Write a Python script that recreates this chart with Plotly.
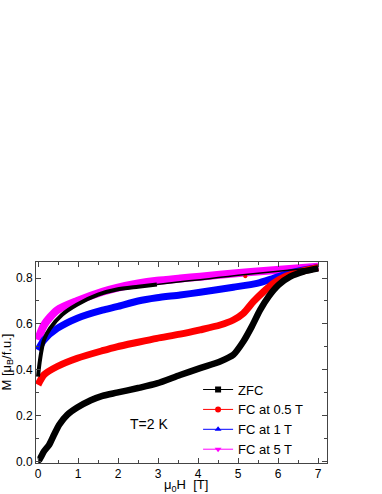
import plotly.graph_objects as go

# field values (T) and magnetisation (muB/f.u.)
zfc_up_h = [0.0, 0.03, 0.15, 0.28, 0.4, 0.53, 0.73, 0.98, 1.32, 1.61, 1.97, 2.5, 2.97, 3.55, 4.05, 4.55, 4.88,
            5.13, 5.34, 5.55, 5.76, 6.01, 6.3, 6.63, 7.0]
zfc_up_m = [0.005, 0.007, 0.044, 0.073, 0.116, 0.16, 0.203, 0.235, 0.267, 0.286, 0.30, 0.32, 0.34, 0.377, 0.407,
            0.436, 0.465, 0.523, 0.588, 0.661, 0.719, 0.77, 0.806, 0.828, 0.842]
zfc_down_h = [7.0, 6.5, 6.0, 5.5, 5.0, 4.5, 4.05, 3.5, 2.97, 2.5, 1.97, 1.5, 0.98, 0.6, 0.3, 0.15, 0.09, 0.04, 0.0]
zfc_down_m = [0.845, 0.838, 0.83, 0.821, 0.812, 0.802, 0.793, 0.783, 0.772, 0.762, 0.75, 0.728, 0.685, 0.64,
              0.58, 0.53, 0.486, 0.43, 0.37]

fc05_h = [0.0, 0.15, 0.48, 0.98, 1.61, 1.97, 2.5, 2.97, 3.55, 4.05, 4.55, 4.88, 5.13, 5.38, 5.63, 5.88, 6.13,
          6.55, 7.0]
fc05_m = [0.334, 0.378, 0.414, 0.45, 0.483, 0.5, 0.52, 0.537, 0.555, 0.574, 0.595, 0.617, 0.646, 0.697, 0.74,
          0.777, 0.803, 0.828, 0.846]
fc05_ret_h = [6.68, 5.18]
fc05_ret_m = [0.826, 0.808]

fc1_h = [0.0, 0.15, 0.48, 0.98, 1.61, 1.97, 2.5, 2.97, 3.55, 4.05, 4.88, 5.47, 5.88, 6.3, 7.0]
fc1_m = [0.486, 0.53, 0.58, 0.625, 0.66, 0.675, 0.7, 0.714, 0.726, 0.738, 0.76, 0.777, 0.799, 0.823, 0.846]

fc5_h = [0.0, 0.15, 0.48, 0.98, 1.61, 1.97, 2.5, 2.97, 3.55, 4.05, 4.88, 5.72, 7.0]
fc5_m = [0.53, 0.595, 0.66, 0.70, 0.74, 0.757, 0.776, 0.788, 0.798, 0.806, 0.82, 0.832, 0.849]

labels = ["ZFC", "FC at 0.5 T", "FC at 1 T", "FC at 5 T"]
colors = ["black", "red", "blue", "magenta"]
symbols = ["square", "circle", "triangle-up", "triangle-down"]

font_main = "Liberation Sans, Arial, sans-serif"


def band(x, y, color, width):
    return go.Scatter(x=x, y=y, mode="lines", showlegend=False,
                      line=dict(color=color, width=width, shape="spline", smoothing=0.7))


fig = go.Figure()

# thick bands (dense measured points)
fig.add_trace(band(fc5_h, fc5_m, "magenta", 8))
fig.add_trace(band(fc1_h, fc1_m, "blue", 7))
fig.add_trace(band(fc05_h, fc05_m, "red", 7))
fig.add_trace(go.Scatter(x=fc05_ret_h, y=fc05_ret_m, mode="markers",
                         marker=dict(color="red", symbol="circle", size=4), showlegend=False))
# ZFC return branch: thin at high field, thick below 3 T
fig.add_trace(band(zfc_down_h[:9], zfc_down_m[:9], "black", 1.5))
fig.add_trace(band(zfc_down_h[8:], zfc_down_m[8:], "black", 4))
fig.add_trace(band(zfc_up_h, zfc_up_m, "black", 6.5))

# legend entries
for lab, col, sym in zip(labels, colors, symbols):
    fig.add_trace(go.Scatter(
        x=[None], y=[None], mode="lines+markers", name=lab,
        line=dict(color=col, width=1),
        marker=dict(color=col, symbol=sym, size=6),
    ))

axis_common = dict(
    showline=True, linecolor="#444", linewidth=1, mirror="allticks", automargin=False,
    ticks="inside", ticklen=5, tickcolor="#444", showgrid=False, zeroline=False,
    tickfont=dict(family=font_main, size=12, color="black"),
)

fig.update_xaxes(
    range=[-0.05, 7.22], tickvals=[0, 1, 2, 3, 4, 5, 6, 7],
    minor=dict(ticks="inside", ticklen=3, dtick=0.5, tick0=0, tickcolor="#444"),
    **axis_common,
)
fig.update_yaxes(
    range=[-0.007, 0.87], tickvals=[0.0, 0.2, 0.4, 0.6, 0.8], ticktext=["0.0", "0.2", "0.4", "0.6", "0.8"],
    minor=dict(ticks="inside", ticklen=3, dtick=0.1, tick0=0, tickcolor="#444"),
    **axis_common,
)

# axis titles as annotations so they sit where the original puts them
fig.add_annotation(x=0.5, y=0, xref="paper", yref="paper", xshift=4, yshift=-22, yanchor="middle",
                   text="μ<sub>0</sub>H  [T]", showarrow=False,
                   font=dict(family=font_main, size=13, color="black"))
fig.add_annotation(x=0, y=0.5, xref="paper", yref="paper", xshift=-29, xanchor="center", yanchor="middle",
                   text="M [μ<sub>B</sub>/f.u.]", textangle=-90, showarrow=False,
                   font=dict(family=font_main, size=13, color="black"))

fig.add_annotation(x=2.78, y=0.165, xref="x", yref="y", text="T=2 K", showarrow=False,
                   font=dict(family=font_main, size=14, color="black"))

fig.update_layout(
    width=382, height=494,
    margin=dict(l=36, r=55, t=262, b=31),
    plot_bgcolor="white", paper_bgcolor="white",
    legend=dict(x=0.557, y=0.44, xanchor="left", yanchor="top", bgcolor="rgba(0,0,0,0)",
                font=dict(family=font_main, size=13, color="black"),
                tracegroupgap=0, itemwidth=30),
)

# drop the browser's default body margin so the figure fills the window
fig.write_html("out.html", config={"displayModeBar": False},
               post_script="document.body.style.margin = '0';")
